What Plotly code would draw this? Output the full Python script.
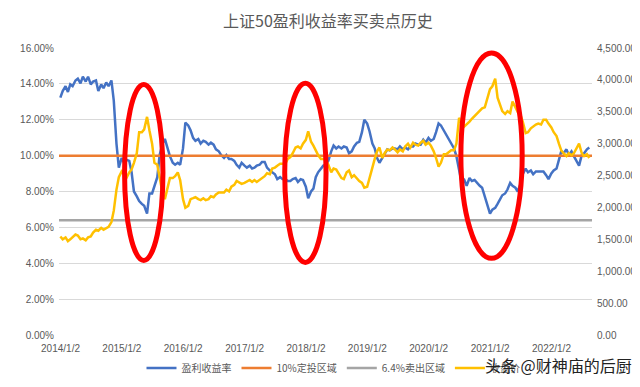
import pandas as pd
import plotly.graph_objects as go

# ---------------- data ----------------
title_text = "上证50盈利收益率买卖点历史"
series_names = ["盈利收益率", "10%定投区域", "6.4%卖出区域", "收盘价"]

# semi-monthly observation dates (1st / 15th), Jan 2014 -> Aug 2022
dates = pd.date_range("2014-01-01", periods=208, freq="SMS")

# earnings yield of SSE 50 (%), left axis
earnings_yield = [
    13.23, 13.60, 13.87, 13.55, 13.97, 13.87, 14.19, 14.29, 14.03, 14.40,
    14.13, 14.40, 13.97, 14.13, 14.19, 13.60, 13.97, 13.76, 14.08, 13.87,
    14.19, 13.07, 10.67, 9.33, 9.87, 9.60, 9.76, 9.71, 9.07, 8.00,
    7.73, 7.47, 7.31, 7.20, 6.77, 7.89, 7.89, 8.37, 8.80, 10.03,
    10.67, 10.93, 10.40, 9.97, 9.60, 9.49, 9.60, 9.49, 10.40, 11.84,
    11.68, 11.41, 10.99, 10.83, 10.93, 10.67, 10.83, 10.77, 10.61, 10.72,
    10.61, 10.35, 10.24, 10.03, 9.87, 10.03, 9.81, 9.81, 9.71, 9.49,
    9.33, 9.60, 9.44, 9.33, 9.44, 9.28, 9.33, 9.44, 9.49, 9.65,
    9.65, 9.33, 9.17, 9.07, 8.96, 8.69, 8.80, 8.69, 8.69, 8.59,
    8.59, 8.69, 8.75, 8.53, 8.69, 8.64, 8.27, 7.63, 8.00, 8.16,
    8.80, 9.07, 9.28, 9.44, 9.49, 9.71, 10.24, 10.56, 10.40, 10.51,
    10.40, 10.51, 10.45, 10.13, 10.24, 10.51, 10.72, 10.77, 11.31, 12.00,
    11.79, 11.36, 10.67, 10.40, 9.87, 9.60, 9.87, 10.13, 10.35, 10.29,
    10.40, 10.40, 10.35, 10.51, 10.35, 10.45, 10.35, 10.51, 10.51, 10.67,
    10.61, 10.61, 10.88, 10.72, 10.99, 10.83, 10.93, 11.31, 11.79, 11.68,
    11.41, 11.20, 10.93, 10.72, 10.40, 9.97, 9.07, 8.53, 8.64, 8.32,
    8.75, 8.59, 8.64, 8.48, 8.32, 8.21, 7.68, 7.25, 6.77, 6.99,
    7.09, 7.31, 7.57, 7.79, 7.89, 8.11, 8.48, 8.32, 8.21, 8.00,
    8.43, 8.96, 9.28, 9.07, 9.17, 8.96, 9.12, 9.12, 9.12, 9.12,
    8.91, 8.69, 9.01, 9.17, 9.28, 9.71, 10.24, 10.13, 10.35, 10.03,
    10.24, 9.97, 9.71, 9.44, 10.03, 10.13, 10.35, 10.45,
]

# SSE 50 closing price, right axis
close_price = [
    1545, 1500, 1530, 1470, 1500, 1530, 1575, 1560, 1500, 1515,
    1485, 1530, 1545, 1605, 1650, 1635, 1680, 1650, 1680, 1695,
    1770, 1950, 2280, 2475, 2565, 2520, 2475, 2550, 2595, 2700,
    2850, 3180, 3180, 3225, 3420, 3210, 3000, 2700, 2670, 2475,
    2220, 2130, 2310, 2460, 2460, 2490, 2550, 2430, 2130, 1995,
    2025, 2130, 2145, 2160, 2130, 2115, 2145, 2115, 2130, 2175,
    2160, 2205, 2235, 2235, 2235, 2280, 2250, 2325, 2355, 2415,
    2385, 2370, 2385, 2400, 2430, 2400, 2430, 2400, 2430, 2460,
    2490, 2535, 2520, 2610, 2625, 2655, 2685, 2685, 2685, 2760,
    2790, 2850, 2940, 2955, 2925, 3000, 3060, 3195, 3030, 2970,
    2895, 2820, 2760, 2760, 2745, 2670, 2550, 2610, 2595, 2535,
    2460, 2445, 2550, 2580, 2475, 2505, 2445, 2415, 2385, 2310,
    2325, 2445, 2625, 2760, 2880, 2940, 2775, 2850, 2910, 2895,
    2940, 2910, 2865, 2910, 2880, 2955, 3000, 2940, 3015, 2985,
    2970, 3015, 3045, 2985, 3015, 2970, 2880, 2775, 2640, 2700,
    2835, 2835, 2865, 2895, 2895, 3000, 3405, 3315, 3270, 3300,
    3345, 3390, 3435, 3465, 3510, 3555, 3570, 3705, 3855, 3900,
    4020, 3720, 3600, 3510, 3465, 3510, 3480, 3660, 3570, 3495,
    3450, 3345, 3165, 3180, 3240, 3270, 3300, 3315, 3300, 3375,
    3375, 3315, 3255, 3180, 3120, 3000, 2895, 2850, 2805, 2850,
    2820, 2850, 2925, 3000, 2850, 2805, 2835, 2775,
]

# reference levels (%)
buy_level = [10.0, 10.0]
sell_level = [6.4, 6.4]
level_dates = ["2013-12-24", "2022-08-31"]

x_tick_dates = ["2014-01-02", "2015-01-02", "2016-01-02", "2017-01-02", "2018-01-02",
                "2019-01-02", "2020-01-02", "2021-01-02", "2022-01-02"]
x_tick_labels = ["2014/1/2", "2015/1/2", "2016/1/2", "2017/1/2", "2018/1/2",
                 "2019/1/2", "2020/1/2", "2021/1/2", "2022/1/2"]

watermark = "头条 @财神庙的后厨"

# ---------------- figure ----------------
BLUE, ORANGE, GRAY, YELLOW = "#4472C4", "#ED7D31", "#A5A5A5", "#FFC000"
TXT = "#595959"
FONT = "Liberation Sans, Noto Sans CJK SC, sans-serif"
CJK = "Noto Sans CJK SC, sans-serif"

fig = go.Figure()
fig.add_trace(go.Scatter(x=dates, y=earnings_yield, name=series_names[0], mode="lines",
                         line=dict(color=BLUE, width=2.5)))
fig.add_trace(go.Scatter(x=level_dates, y=buy_level, name=series_names[1], mode="lines",
                         line=dict(color=ORANGE, width=2.5)))
fig.add_trace(go.Scatter(x=level_dates, y=sell_level, name=series_names[2], mode="lines",
                         line=dict(color=GRAY, width=2.5)))
fig.add_trace(go.Scatter(x=dates, y=close_price, name=series_names[3], mode="lines",
                         line=dict(color=YELLOW, width=2.5), yaxis="y2"))

# red ellipses marking buy/sell zones (paper coordinates)
ellipses = [(0.123, 0.26, 0.195, 0.873), (0.4235, 0.253, 0.501, 0.877), (0.754, 0.267, 0.869, 0.983)]
for x0, y0, x1, y1 in ellipses:
    fig.add_shape(type="circle", xref="paper", yref="paper", x0=x0, y0=y0, x1=x1, y1=y1,
                  line=dict(color="#FF0000", width=5), layer="above")

fig.add_annotation(text=watermark, xref="paper", yref="paper", x=1.078, y=-0.105,
                   xanchor="right", yanchor="middle", showarrow=False,
                   font=dict(family=CJK, size=16, color="#222222"))

fig.update_layout(
    width=640, height=387,
    margin=dict(l=43, r=48, t=40, b=47),
    paper_bgcolor="white", plot_bgcolor="white",
    font=dict(family=FONT, size=10, color=TXT),
    title=dict(text=title_text, x=0.5, xanchor="center", y=0.965, yanchor="middle",
               font=dict(family=CJK, size=16, color=TXT)),
    showlegend=True,
    legend=dict(orientation="h", x=0.515, xanchor="center", y=-0.115, yanchor="middle",
                font=dict(family=CJK, size=10, color=TXT), bgcolor="rgba(0,0,0,0)"),
    xaxis=dict(type="date", range=["2013-12-24", "2022-08-31"],
               tickmode="array", tickvals=x_tick_dates, ticktext=x_tick_labels,
               showgrid=False, zeroline=False, showline=False, ticks="",
               tickfont=dict(size=10, color=TXT), ticklabelstandoff=6),
    yaxis=dict(range=[0, 16], dtick=2, tickformat=".2f", ticksuffix="%",
               showgrid=True, gridcolor="#D9D9D9", gridwidth=1, zeroline=False,
               ticks="", tickfont=dict(size=10, color=TXT), ticklabelstandoff=4),
    yaxis2=dict(range=[0, 4500], dtick=500, tickformat=",.2f", overlaying="y", side="right",
                showgrid=False, zeroline=False, ticks="",
                tickfont=dict(size=10, color=TXT), ticklabelstandoff=4),
)

fig.write_html("out.html")
